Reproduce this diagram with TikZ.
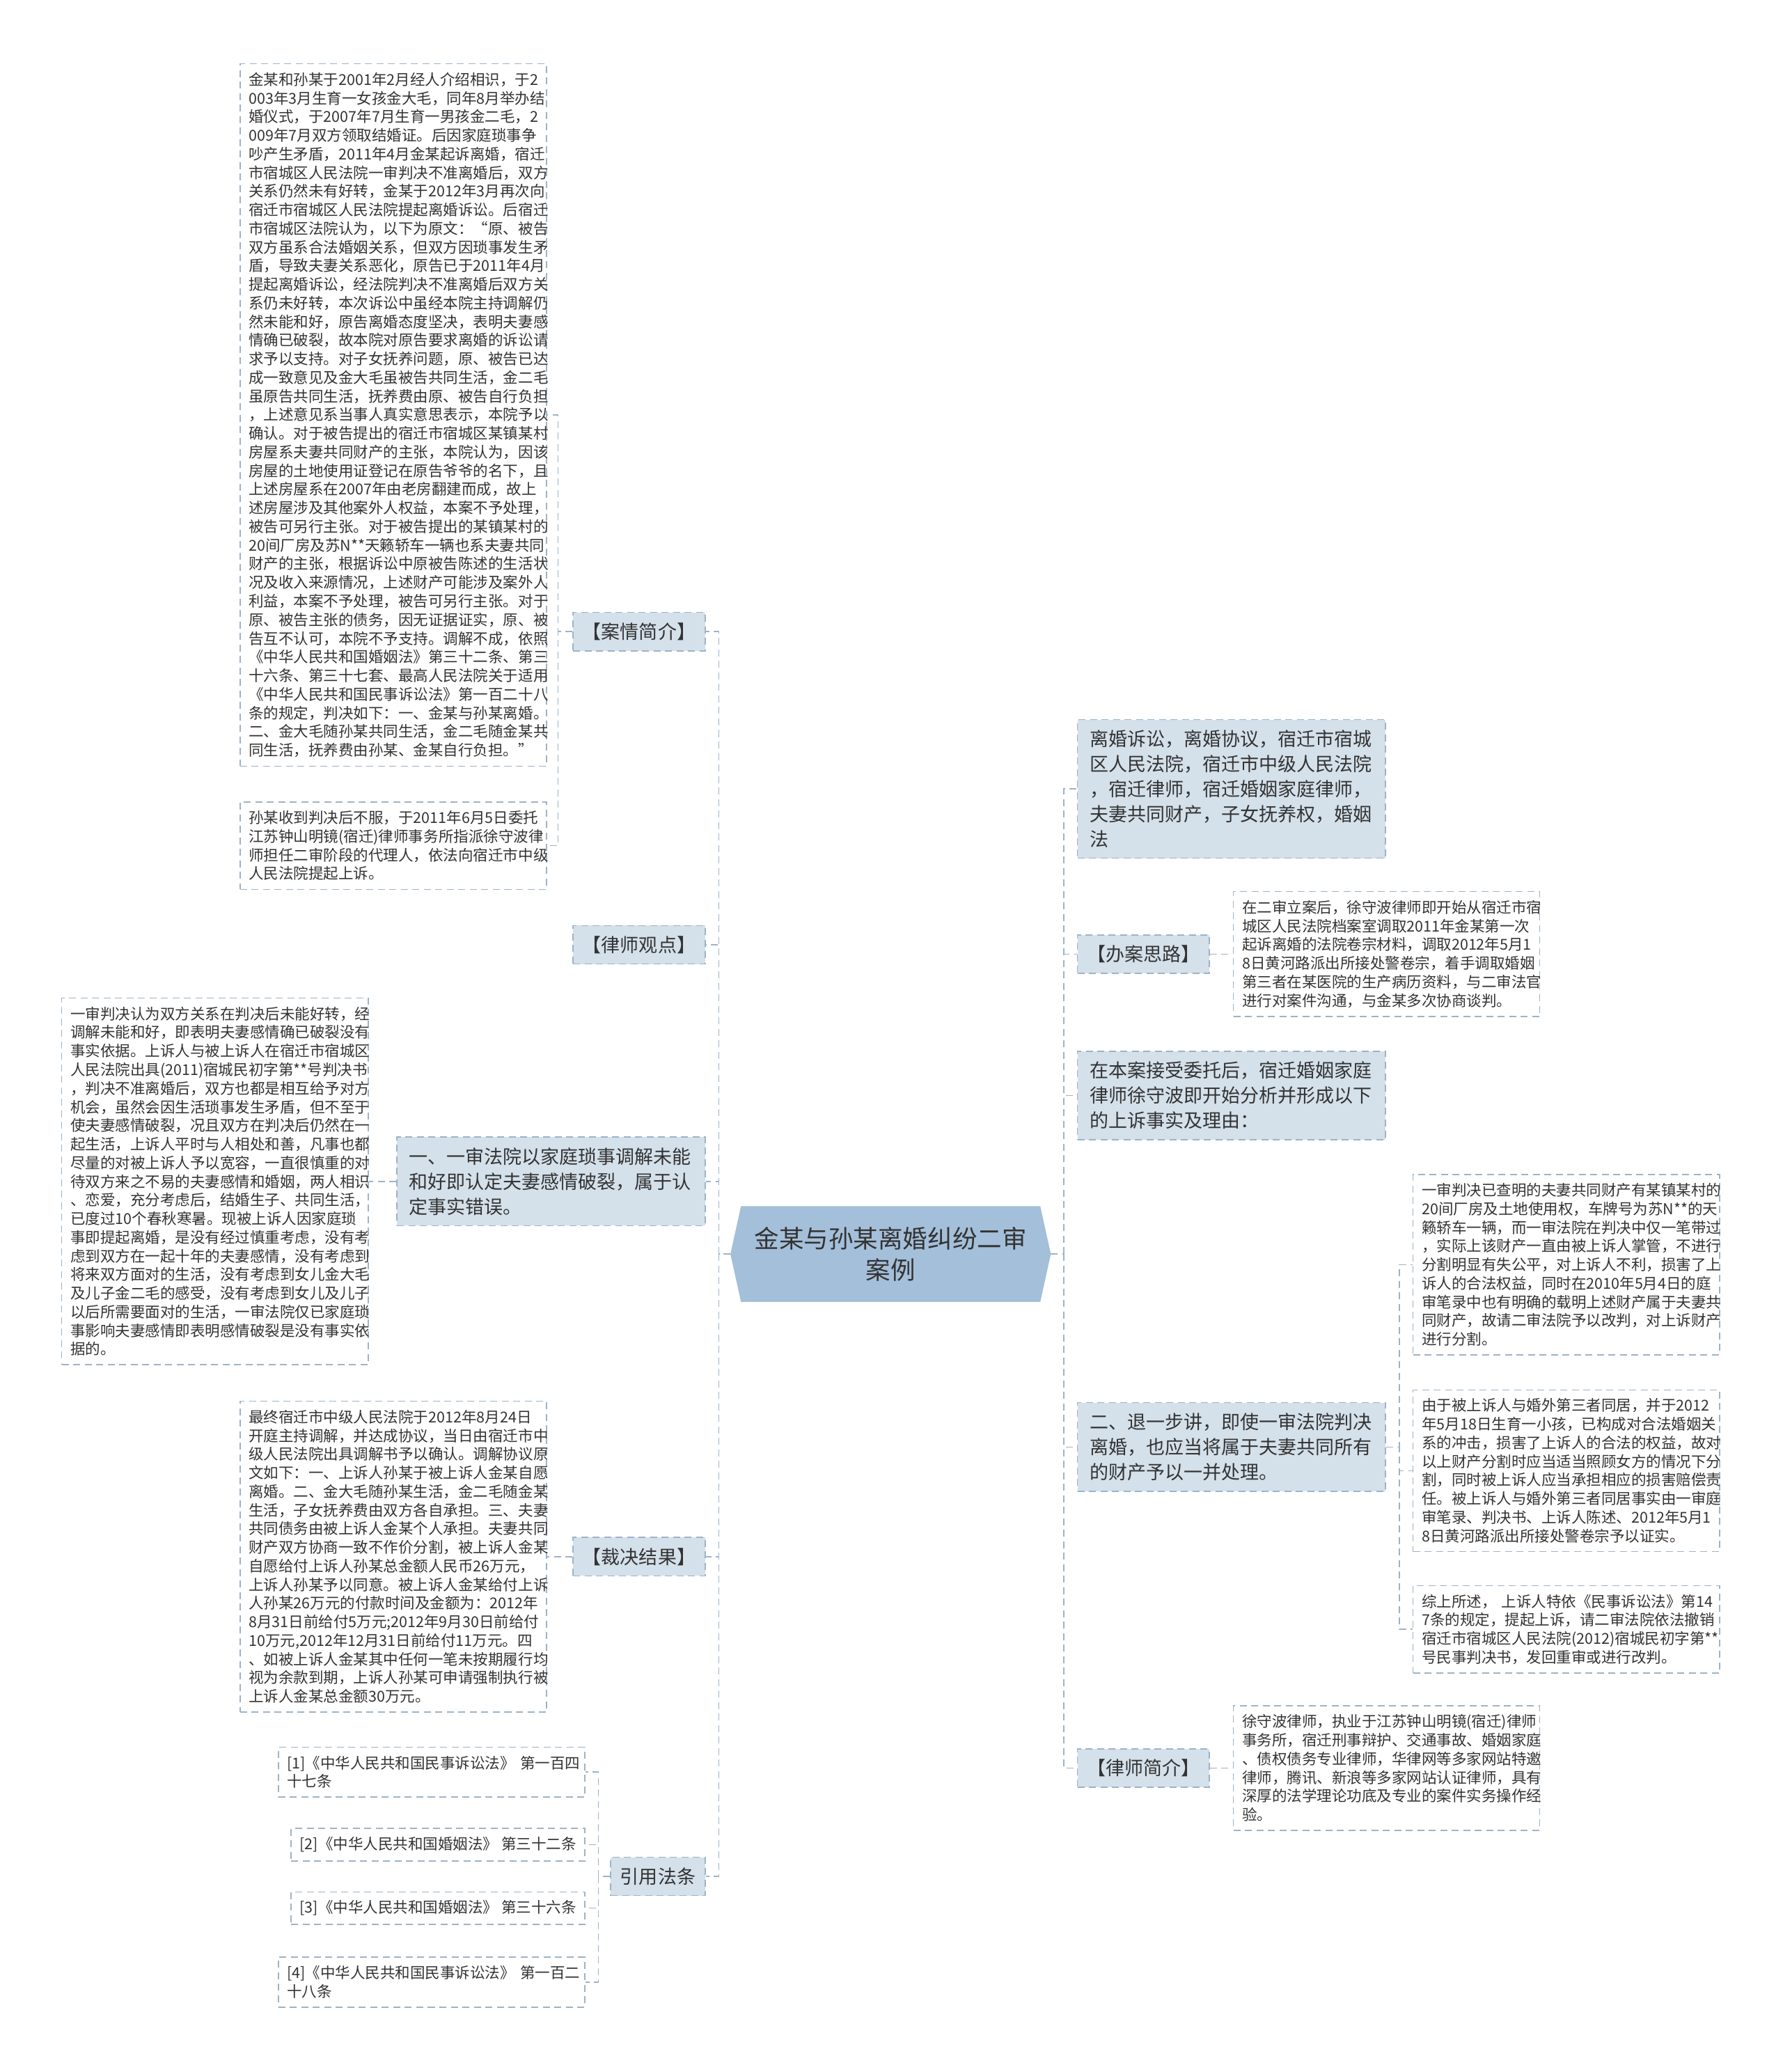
\documentclass[tikz,border=0pt]{standalone}
\usepackage{fontspec}
\usepackage{tikz}
\usetikzlibrary{positioning, calc, backgrounds}
\newfontfamily\cjk{Noto Sans CJK SC}
\definecolor{mEdge}{HTML}{9DB3C7}
\definecolor{mFill}{HTML}{D4E0EA}
\definecolor{mRoot}{HTML}{A4BFD9}
\definecolor{mText}{HTML}{333333}

\begin{document}
\begin{tikzpicture}[x=0.759pt, y=-0.759pt,
    link/.style={draw=mEdge, line width=0.6pt, dash pattern=on 4pt off 2.6pt},
    leaf/.style={draw=mEdge, line width=0.6pt, dash pattern=on 4pt off 2.6pt, fill=white, text=mText,
      align=left, inner xsep=5pt, inner ysep=5pt, font=\cjk\fontsize{8.6}{10.7}\selectfont},
    wide/.style={leaf, text width=166pt},
    topic/.style={draw=mEdge, line width=0.6pt, dash pattern=on 4pt off 2.6pt, fill=mFill, text=mText,
      align=left, inner xsep=5.5pt, inner ysep=6pt, font=\cjk\fontsize{10.8}{14.4}\selectfont},
    bigtopic/.style={topic, text width=163pt, inner xsep=7pt},
    root/.style={text=mText, align=center, minimum width=171.5pt, minimum height=54.6pt, inner sep=2pt,
      font=\cjk\fontsize{14.2}{18.2}\selectfont}]

  \useasboundingbox (0,0) rectangle (1349,1568);

  % centre
  \node[root] (root) at (674,949) {金某与孙某离婚纠纷二审\\案例};
  \begin{scope}[on background layer]
    \fill[white] (0,0) rectangle (1349,1568);
    \fill[mRoot] (root.north west) -- (root.north east) -- ($(root.east)+(8,0)$)
      -- (root.south east) -- (root.south west) -- ($(root.west)+(-8,0)$) -- cycle;
  \end{scope}

  % left side
  \node[topic, anchor=east] (n1) at (534,478) {【案情简介】};
  \node[topic, anchor=east] (n2) at (534,715) {【律师观点】};
  \node[bigtopic, anchor=east] (n3) at (534,894) {一、一审法院以家庭琐事调解未能\\和好即认定夫妻感情破裂，属于认\\定事实错误。};
  \node[topic, anchor=east] (n4) at (534,1178) {【裁决结果】};
  \node[topic, anchor=east] (n5) at (534,1420) {引用法条};

  \node[wide, anchor=east] (a1) at (414,314) {金某和孙某于2001年2月经人介绍相识，于2\\
003年3月生育一女孩金大毛，同年8月举办结\\
婚仪式，于2007年7月生育一男孩金二毛，2\\
009年7月双方领取结婚证。后因家庭琐事争\\
吵产生矛盾，2011年4月金某起诉离婚，宿迁\\
市宿城区人民法院一审判决不准离婚后，双方\\
关系仍然未有好转，金某于2012年3月再次向\\
宿迁市宿城区人民法院提起离婚诉讼。后宿迁\\
市宿城区法院认为，以下为原文：“原、被告\\
双方虽系合法婚姻关系，但双方因琐事发生矛\\
盾，导致夫妻关系恶化，原告已于2011年4月\\
提起离婚诉讼，经法院判决不准离婚后双方关\\
系仍未好转，本次诉讼中虽经本院主持调解仍\\
然未能和好，原告离婚态度坚决，表明夫妻感\\
情确已破裂，故本院对原告要求离婚的诉讼请\\
求予以支持。对子女抚养问题，原、被告已达\\
成一致意见及金大毛虽被告共同生活，金二毛\\
虽原告共同生活，抚养费由原、被告自行负担\\
，上述意见系当事人真实意思表示，本院予以\\
确认。对于被告提出的宿迁市宿城区某镇某村\\
房屋系夫妻共同财产的主张，本院认为，因该\\
房屋的土地使用证登记在原告爷爷的名下，且\\
上述房屋系在2007年由老房翻建而成，故上\\
述房屋涉及其他案外人权益，本案不予处理，\\
被告可另行主张。对于被告提出的某镇某村的\\
20间厂房及苏N**天籁轿车一辆也系夫妻共同\\
财产的主张，根据诉讼中原被告陈述的生活状\\
况及收入来源情况，上述财产可能涉及案外人\\
利益，本案不予处理，被告可另行主张。对于\\
原、被告主张的债务，因无证据证实，原、被\\
告互不认可，本院不予支持。调解不成，依照\\
《中华人民共和国婚姻法》第三十二条、第三\\
十六条、第三十七套、最高人民法院关于适用\\
《中华人民共和国民事诉讼法》第一百二十八\\
条的规定，判决如下：一、金某与孙某离婚。\\
二、金大毛随孙某共同生活，金二毛随金某共\\
同生活，抚养费由孙某、金某自行负担。”};
  \node[wide, anchor=east] (a2) at (414,640) {孙某收到判决后不服，于2011年6月5日委托\\
江苏钟山明镜(宿迁)律师事务所指派徐守波律\\
师担任二审阶段的代理人，依法向宿迁市中级\\
人民法院提起上诉。};
  \node[wide, anchor=east] (c1) at (279,894) {一审判决认为双方关系在判决后未能好转，经\\
调解未能和好，即表明夫妻感情确已破裂没有\\
事实依据。上诉人与被上诉人在宿迁市宿城区\\
人民法院出具(2011)宿城民初字第**号判决书\\
，判决不准离婚后，双方也都是相互给予对方\\
机会，虽然会因生活琐事发生矛盾，但不至于\\
使夫妻感情破裂，况且双方在判决后仍然在一\\
起生活，上诉人平时与人相处和善，凡事也都\\
尽量的对被上诉人予以宽容，一直很慎重的对\\
待双方来之不易的夫妻感情和婚姻，两人相识\\
、恋爱，充分考虑后，结婚生子、共同生活，\\
已度过10个春秋寒暑。现被上诉人因家庭琐\\
事即提起离婚，是没有经过慎重考虑，没有考\\
虑到双方在一起十年的夫妻感情，没有考虑到\\
将来双方面对的生活，没有考虑到女儿金大毛\\
及儿子金二毛的感受，没有考虑到女儿及儿子\\
以后所需要面对的生活，一审法院仅已家庭琐\\
事影响夫妻感情即表明感情破裂是没有事实依\\
据的。};
  \node[wide, anchor=east] (d1) at (414,1178) {最终宿迁市中级人民法院于2012年8月24日\\
开庭主持调解，并达成协议，当日由宿迁市中\\
级人民法院出具调解书予以确认。调解协议原\\
文如下：一、上诉人孙某于被上诉人金某自愿\\
离婚。二、金大毛随孙某生活，金二毛随金某\\
生活，子女抚养费由双方各自承担。三、夫妻\\
共同债务由被上诉人金某个人承担。夫妻共同\\
财产双方协商一致不作价分割，被上诉人金某\\
自愿给付上诉人孙某总金额人民币26万元，\\
上诉人孙某予以同意。被上诉人金某给付上诉\\
人孙某26万元的付款时间及金额为：2012年\\
8月31日前给付5万元;2012年9月30日前给付\\
10万元,2012年12月31日前给付11万元。四\\
、如被上诉人金某其中任何一笔未按期履行均\\
视为余款到期，上诉人孙某可申请强制执行被\\
上诉人金某总金额30万元。};
  \node[wide, anchor=east] (l1) at (443,1341) {[1]《中华人民共和国民事诉讼法》~第一百四\\十七条};
  \node[leaf, anchor=east] (l2) at (443,1396) {[2]《中华人民共和国婚姻法》~第三十二条};
  \node[leaf, anchor=east] (l3) at (443,1444) {[3]《中华人民共和国婚姻法》~第三十六条};
  \node[wide, anchor=east] (l4) at (443,1500) {[4]《中华人民共和国民事诉讼法》~第一百二\\十八条};

  % right side
  \node[bigtopic, anchor=west] (m1) at (815,597) {离婚诉讼，离婚协议，宿迁市宿城\\区人民法院，宿迁市中级人民法院\\，宿迁律师，宿迁婚姻家庭律师，\\夫妻共同财产，子女抚养权，婚姻\\法};
  \node[topic, anchor=west] (m2) at (815,722) {【办案思路】};
  \node[bigtopic, anchor=west] (m3) at (815,829) {在本案接受委托后，宿迁婚姻家庭\\律师徐守波即开始分析并形成以下\\的上诉事实及理由：};
  \node[bigtopic, anchor=west] (m4) at (815,1095) {二、退一步讲，即使一审法院判决\\离婚，也应当将属于夫妻共同所有\\的财产予以一并处理。};
  \node[topic, anchor=west] (m5) at (815,1338) {【律师简介】};

  \node[wide, anchor=west] (b1) at (933,722) {在二审立案后，徐守波律师即开始从宿迁市宿\\
城区人民法院档案室调取2011年金某第一次\\
起诉离婚的法院卷宗材料，调取2012年5月1\\
8日黄河路派出所接处警卷宗，着手调取婚姻\\
第三者在某医院的生产病历资料，与二审法官\\
进行对案件沟通，与金某多次协商谈判。};
  \node[wide, anchor=west] (e1) at (1069,957) {一审判决已查明的夫妻共同财产有某镇某村的\\
20间厂房及土地使用权，车牌号为苏N**的天\\
籁轿车一辆，而一审法院在判决中仅一笔带过\\
，实际上该财产一直由被上诉人掌管，不进行\\
分割明显有失公平，对上诉人不利，损害了上\\
诉人的合法权益，同时在2010年5月4日的庭\\
审笔录中也有明确的载明上述财产属于夫妻共\\
同财产，故请二审法院予以改判，对上诉财产\\
进行分割。};
  \node[wide, anchor=west] (e2) at (1069,1113) {由于被上诉人与婚外第三者同居，并于2012\\
年5月18日生育一小孩，已构成对合法婚姻关\\
系的冲击，损害了上诉人的合法的权益，故对\\
以上财产分割时应当适当照顾女方的情况下分\\
割，同时被上诉人应当承担相应的损害赔偿责\\
任。被上诉人与婚外第三者同居事实由一审庭\\
审笔录、判决书、上诉人陈述、2012年5月1\\
8日黄河路派出所接处警卷宗予以证实。};
  \node[wide, anchor=west] (e3) at (1069,1233) {综上所述，~上诉人特依《民事诉讼法》第14\\
7条的规定，提起上诉，请二审法院依法撤销\\
宿迁市宿城区人民法院(2012)宿城民初字第**\\
号民事判决书，发回重审或进行改判。};
  \node[wide, anchor=west] (f1) at (933,1338) {徐守波律师，执业于江苏钟山明镜(宿迁)律师\\
事务所，宿迁刑事辩护、交通事故、婚姻家庭\\
、债权债务专业律师，华律网等多家网站特邀\\
律师，腾讯、新浪等多家网站认证律师，具有\\
深厚的法学理论功底及专业的案件实务操作经\\
验。};

  % connectors
  \coordinate (lt) at (544,949);
  \coordinate (rt) at (805,949);
  \draw[link] ($(root.west)+(-8,0)$) -- (lt);
  \draw[link] ($(root.east)+(8,0)$) -- (rt);
  \foreach \n in {n1,n2,n3,n4,n5} \draw[link] (lt) |- (\n.east);
  \foreach \n in {m1,m2,m3,m4,m5} \draw[link] (rt) |- (\n.west);
  \foreach \n in {a1,a2} \draw[link] (n1.west) -- ++(-11,0) |- (\n.east);
  \draw[link] (n3.west) -- (c1.east);
  \draw[link] (n4.west) -- (d1.east);
  \foreach \n in {l1,l2,l3,l4} \draw[link] (n5.west) -- ++(-9,0) |- (\n.east);
  \draw[link] (m2.east) -- (b1.west);
  \foreach \n in {e1,e2,e3} \draw[link] (m4.east) -- ++(10,0) |- (\n.west);
  \draw[link] (m5.east) -- (f1.west);
\end{tikzpicture}
\end{document}
